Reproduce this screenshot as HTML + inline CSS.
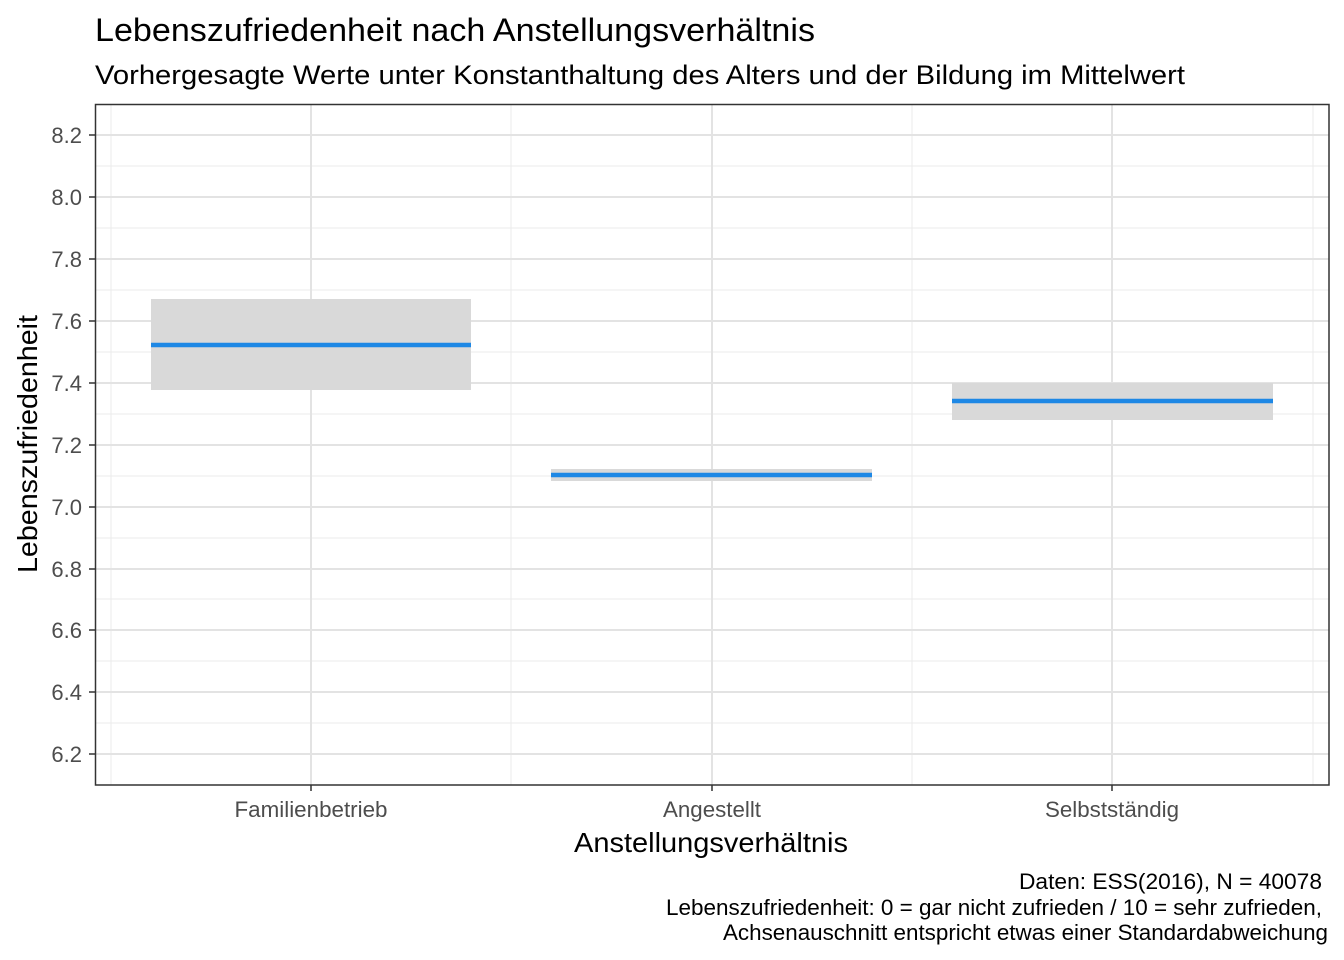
<!DOCTYPE html>
<html><head><meta charset="utf-8"><style>body{margin:0;background:#fff}svg{display:block}text{font-family:"Liberation Sans",Arial,sans-serif}</style></head>
<body>
<svg width="1344" height="960" viewBox="0 0 1344 960" xmlns="http://www.w3.org/2000/svg">
<rect width="1344" height="960" fill="#fff"/>
<text x="95" y="41" font-size="32" fill="#000" textLength="720" lengthAdjust="spacingAndGlyphs">Lebenszufriedenheit nach Anstellungsverhältnis</text>
<text x="95" y="84" font-size="27" fill="#000" textLength="1090" lengthAdjust="spacingAndGlyphs">Vorhergesagte Werte unter Konstanthaltung des Alters und der Bildung im Mittelwert</text>
<g stroke="#ebebeb" stroke-width="1">
<line x1="95" x2="1329" y1="166" y2="166"/><line x1="95" x2="1329" y1="228" y2="228"/><line x1="95" x2="1329" y1="290" y2="290"/><line x1="95" x2="1329" y1="352" y2="352"/><line x1="95" x2="1329" y1="414" y2="414"/><line x1="95" x2="1329" y1="476" y2="476"/><line x1="95" x2="1329" y1="538" y2="538"/><line x1="95" x2="1329" y1="599" y2="599"/><line x1="95" x2="1329" y1="661" y2="661"/><line x1="95" x2="1329" y1="723" y2="723"/>
<line x1="111" x2="111" y1="104" y2="785"/><line x1="511" x2="511" y1="104" y2="785"/><line x1="912" x2="912" y1="104" y2="785"/><line x1="1313" x2="1313" y1="104" y2="785"/>
</g>
<g stroke="#e3e3e3" stroke-width="2">
<line x1="95" x2="1329" y1="135" y2="135"/><line x1="95" x2="1329" y1="197" y2="197"/><line x1="95" x2="1329" y1="259" y2="259"/><line x1="95" x2="1329" y1="321" y2="321"/><line x1="95" x2="1329" y1="383" y2="383"/><line x1="95" x2="1329" y1="445" y2="445"/><line x1="95" x2="1329" y1="507" y2="507"/><line x1="95" x2="1329" y1="569" y2="569"/><line x1="95" x2="1329" y1="630" y2="630"/><line x1="95" x2="1329" y1="692" y2="692"/><line x1="95" x2="1329" y1="754" y2="754"/>
<line x1="311" x2="311" y1="104" y2="785"/><line x1="712" x2="712" y1="104" y2="785"/><line x1="1112" x2="1112" y1="104" y2="785"/>
</g>
<rect x="151" y="299" width="320" height="91" fill="#d9d9d9"/>
<rect x="551" y="469" width="321" height="12" fill="#d9d9d9"/>
<rect x="952" y="383" width="321" height="37" fill="#d9d9d9"/>
<g stroke="#1e88e5" stroke-width="4.5">
<line x1="151" x2="471" y1="345" y2="345"/><line x1="551" x2="872" y1="475" y2="475"/><line x1="952" x2="1273" y1="401" y2="401"/>
</g>
<rect x="95.5" y="104.5" width="1233.5" height="680.5" fill="none" stroke="#333" stroke-width="1.5"/>
<g stroke="#333" stroke-width="1.5">
<line x1="89" x2="95" y1="135" y2="135"/><line x1="89" x2="95" y1="197" y2="197"/><line x1="89" x2="95" y1="259" y2="259"/><line x1="89" x2="95" y1="321" y2="321"/><line x1="89" x2="95" y1="383" y2="383"/><line x1="89" x2="95" y1="445" y2="445"/><line x1="89" x2="95" y1="507" y2="507"/><line x1="89" x2="95" y1="569" y2="569"/><line x1="89" x2="95" y1="630" y2="630"/><line x1="89" x2="95" y1="692" y2="692"/><line x1="89" x2="95" y1="754" y2="754"/>
<line x1="311" x2="311" y1="785" y2="791"/><line x1="712" x2="712" y1="785" y2="791"/><line x1="1112" x2="1112" y1="785" y2="791"/>
</g>
<g font-size="22" fill="#4d4d4d" text-anchor="end">
<text x="82" y="143">8.2</text><text x="82" y="205">8.0</text><text x="82" y="267">7.8</text><text x="82" y="329">7.6</text><text x="82" y="391">7.4</text><text x="82" y="453">7.2</text><text x="82" y="515">7.0</text><text x="82" y="577">6.8</text><text x="82" y="638">6.6</text><text x="82" y="700">6.4</text><text x="82" y="762">6.2</text>
</g>
<g font-size="22" fill="#4d4d4d" text-anchor="middle">
<text x="311" y="817" textLength="153" lengthAdjust="spacingAndGlyphs">Familienbetrieb</text><text x="712" y="817" textLength="98" lengthAdjust="spacingAndGlyphs">Angestellt</text><text x="1112" y="817" textLength="134" lengthAdjust="spacingAndGlyphs">Selbstständig</text>
</g>
<text x="711" y="852" font-size="28" text-anchor="middle" fill="#000" textLength="274" lengthAdjust="spacingAndGlyphs">Anstellungsverhältnis</text>
<text transform="translate(37,444) rotate(-90)" font-size="28" text-anchor="middle" fill="#000" textLength="258" lengthAdjust="spacingAndGlyphs">Lebenszufriedenheit</text>
<g font-size="22" fill="#000" text-anchor="end">
<text x="1322" y="889" textLength="303" lengthAdjust="spacingAndGlyphs">Daten: ESS(2016), N = 40078</text>
<text x="1322" y="915" textLength="656" lengthAdjust="spacingAndGlyphs">Lebenszufriedenheit: 0 = gar nicht zufrieden / 10 = sehr zufrieden,</text>
<text x="1328" y="940" textLength="605" lengthAdjust="spacingAndGlyphs">Achsenauschnitt entspricht etwas einer Standardabweichung</text>
</g>
</svg>
</body></html>
